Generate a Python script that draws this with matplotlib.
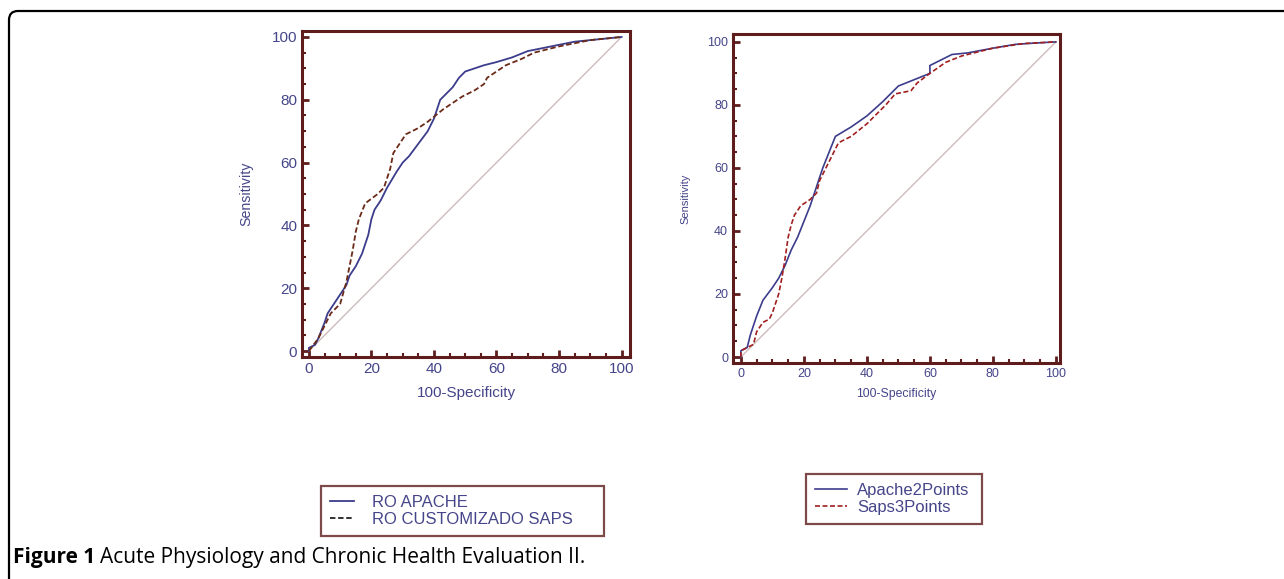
import numpy as np
import matplotlib
matplotlib.use("Agg")
import matplotlib.pyplot as plt
from matplotlib.patches import FancyBboxPatch
from matplotlib.transforms import IdentityTransform
from matplotlib.ticker import MultipleLocator

# ---- data ----
# left panel
apache_x = [0, 0, 2, 3, 5, 6, 8, 10, 12, 13, 15, 17, 19, 20, 21, 23, 25, 28, 30, 32,
            35, 38, 40, 42, 44, 46, 48, 50, 53, 56, 60, 65, 70, 75, 80, 85, 90, 95, 100]
apache_y = [0, 1, 2, 4, 9, 12, 15, 18, 21, 24, 27, 31, 37, 42, 45, 48, 52, 57, 60, 62,
            66, 70, 74, 80, 82, 84, 87, 89, 90, 91, 92, 93.5, 95.5, 96.5, 97.5, 98.5, 99, 99.5, 100]
saps_x = [0, 3, 5, 7, 10, 12, 13, 14, 15, 16, 18, 22, 24, 26, 27, 29, 31, 35, 38, 43,
          49, 53, 56, 57, 60, 63, 68, 72, 80, 90, 100]
saps_y = [0, 4, 8, 12, 15, 22, 27, 32, 38, 42, 47, 50, 52, 58, 63, 66, 69, 71, 73, 77,
          81, 83, 85, 87, 89, 91, 93, 95, 97, 99, 100]

# right panel
ap2_x = [0, 0, 2, 3, 5, 7, 10, 12, 14, 16, 18, 20, 22, 24, 26, 28, 30, 35, 40, 45,
         50, 55, 60, 60, 65, 67, 72, 80, 87, 93, 100]
ap2_y = [0, 2, 3, 7, 13, 18, 22, 25, 29, 34, 38, 43, 48, 54, 60, 65, 70, 73, 76.5, 81,
         86, 88, 90, 92.5, 95, 96, 96.5, 98, 99.2, 99.6, 100]
sp3_x = [0, 0, 2, 4, 5, 7, 9, 10, 12, 13, 14, 15, 16, 17, 19, 22, 24, 25, 27, 29, 31,
         35, 40, 43, 46, 49, 54, 56, 60, 65, 70, 80, 90, 100]
sp3_y = [0, 2, 3, 4, 8, 11, 12, 14, 20, 25, 31, 38, 42, 45, 48, 50, 52, 56, 60, 64, 68,
         70, 74, 77, 80, 83.5, 84.5, 87, 90, 93.5, 95.5, 98, 99.5, 100]

diag = [0, 100]

W, H = 1284, 579
spine_col = "#5e1c1c"
txt_col = "#45458a"
blue = "#3c3c8c"

fig = plt.figure(figsize=(W / 100, H / 100), dpi=100)

# outer rounded frame, open to the right and bottom
frame = FancyBboxPatch((9, -30), 1320, H - 11 + 30, boxstyle="round,pad=0,rounding_size=9",
                       transform=IdentityTransform(), fill=False, ec="black", lw=1.6)
fig.add_artist(frame)


def style_ax(ax, fs, lfs):
    for s in ax.spines.values():
        s.set_color(spine_col)
        s.set_linewidth(2.2)
    ax.xaxis.set_major_locator(MultipleLocator(20))
    ax.yaxis.set_major_locator(MultipleLocator(20))
    ax.xaxis.set_minor_locator(MultipleLocator(5))
    ax.yaxis.set_minor_locator(MultipleLocator(5))
    ax.tick_params(which="major", direction="in", length=5, width=2, color=spine_col,
                   labelcolor=txt_col, labelsize=fs, top=False, right=False)
    ax.tick_params(which="minor", direction="in", length=3, width=1.5, color=spine_col,
                   top=False, right=False)
    for lab in ax.get_xticklabels() + ax.get_yticklabels():
        lab.set_family("Liberation Sans")
    ax.set_xlabel("100-Specificity", color=txt_col, fontsize=lfs, family="Liberation Sans")
    ax.set_ylabel("Sensitivity", color=txt_col, fontsize=lfs - 0.8, family="Liberation Sans")


# left panel
ax1 = fig.add_axes([302 / W, 1 - 357 / H, (630 - 302) / W, (357 - 31) / H])
ax1.plot(diag, diag, color="#cdbcbc", lw=1)
l1, = ax1.plot(apache_x, apache_y, color=blue, lw=1.3)
l2, = ax1.plot(saps_x, saps_y, color="#6a2a18", lw=1.3, ls=(0, (3, 1.5)))
ax1.set_xlim(-2.2, 102.7)
ax1.set_ylim(-1.9, 101.9)
style_ax(ax1, 11, 11)
ax1.yaxis.labelpad = 13
ax1.xaxis.labelpad = 7

# right panel
ax2 = fig.add_axes([733 / W, 1 - 363 / H, (1060 - 733) / W, (363 - 34) / H])
ax2.plot(diag, diag, color="#cdbcbc", lw=1)
r1, = ax2.plot(ap2_x, ap2_y, color=blue, lw=1.2)
r2, = ax2.plot(sp3_x, sp3_y, color="#a02020", lw=1.2, ls=(0, (3, 1.5)))
ax2.set_xlim(-2.5, 101.3)
ax2.set_ylim(-1.9, 102.5)
style_ax(ax2, 9, 8.8)
ax2.yaxis.labelpad = 12
ax2.xaxis.labelpad = 6


def make_legend(handles, labels, x0, y0, x1, y1, hlen, pad):
    leg = fig.legend(handles, labels, loc="upper left",
                     bbox_to_anchor=(x0 / W, 1 - y1 / H, (x1 - x0) / W, (y1 - y0) / H),
                     mode="expand",
                     prop={"family": "Liberation Sans", "size": 12}, frameon=True,
                     fancybox=False, handlelength=hlen, handletextpad=pad, borderpad=0.55,
                     labelspacing=0.12, borderaxespad=0)
    leg.get_frame().set_edgecolor(spine_col)
    leg.get_frame().set_linewidth(1.6)
    for t in leg.get_texts():
        t.set_color(txt_col)
    return leg


leg1 = make_legend([l1, l2], ["RO APACHE", "RO CUSTOMIZADO SAPS"], 321, 486, 604, 536, 1.4, 1.1)
leg1.legend_handles[1].set_color("#222222")
leg2 = make_legend([r1, r2], ["Apache2Points", "Saps3Points"], 806, 474, 982, 524, 1.9, 0.6)

# caption
cap_y = 1 - 563 / H
t1 = fig.text(13 / W, cap_y, "Figure 1", fontsize=15, weight="bold",
              family="Open Sans", va="baseline")
fig.canvas.draw()
bb = t1.get_window_extent()
fig.text(bb.x1 / W + 5 / W, cap_y, "Acute Physiology and Chronic Health Evaluation II.",
         fontsize=15, family="Open Sans", va="baseline")

fig.savefig("out.png", dpi=100)
